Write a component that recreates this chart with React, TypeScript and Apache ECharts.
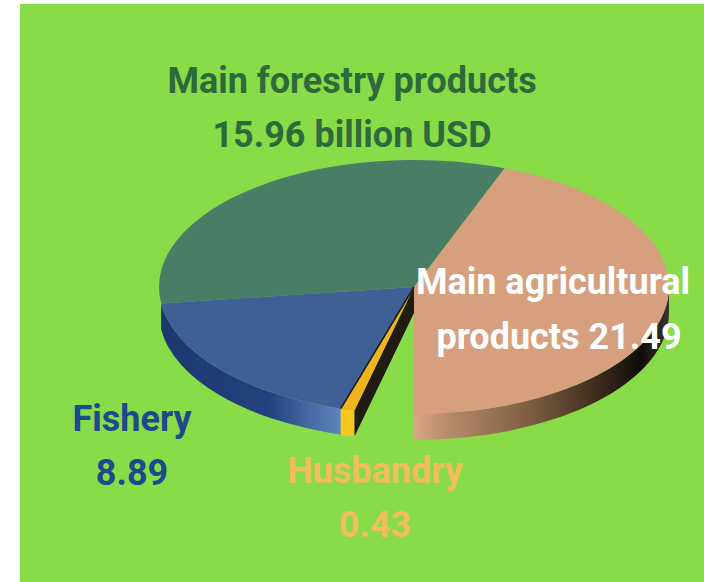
import React, { useEffect, useRef } from "react";
import * as echarts from "echarts";

const categories = ["Main agricultural products", "Main forestry products", "Fishery", "Husbandry"];
const values = [21.49, 15.96, 8.89, 0.43];
const labelLines = [
  ["Main agricultural", "products 21.49"],
  ["Main forestry products", "15.96 billion USD"],
  ["Fishery", "8.89"],
  ["Husbandry", "0.43"],
];

const topColors = ["#d6a07e", "#4a7d66", "#3f6094", "#f0b51e"];
const labelColors = ["#ffffff", "#2e693b", "#1c4a8c", "#f3bb5c"];
const labelAnchors = [
  [553, 282, 559, 337],
  [352, 81, 352, 135],
  [132, 419, 132, 473],
  [375, 471, 375, 525],
];

const CX = 414;
const CY = 287;
const RX = 255;
const RY = 127;
const DEPTH = 26;
const START_DEG = 180;
const TOTAL_SWEEP = 346.5;

const pt = (deg: number, dy = 0): [number, number] => {
  const a = (deg * Math.PI) / 180;
  return [CX + RX * Math.sin(a), CY - RY * Math.cos(a) + dy];
};
const f = (p: [number, number]) => `${p[0].toFixed(2)} ${p[1].toFixed(2)}`;

const topPath = (from: number, to: number) =>
  `M${CX} ${CY} L${f(pt(from))} A${RX} ${RY} 0 ${Math.abs(from - to) > 180 ? 1 : 0} ${to > from ? 1 : 0} ${f(pt(to))} Z`;
const sidePath = (from: number, to: number) =>
  `M${f(pt(from))} A${RX} ${RY} 0 0 ${to > from ? 1 : 0} ${f(pt(to))} L${f(pt(to, DEPTH))} A${RX} ${RY} 0 0 ${to > from ? 0 : 1} ${f(pt(from, DEPTH))} Z`;

const hGrad = (x: number, x2: number, stops: [number, string][]) => ({
  type: "linear",
  x,
  y: 0,
  x2,
  y2: 0,
  global: true,
  colorStops: stops.map(([offset, color]) => ({ offset, color })),
});

const total = values.reduce((a, b) => a + b, 0);
const angleOf = (idx: number) => {
  let sum = 0;
  for (let i = 0; i < idx; i++) sum += values[i];
  return START_DEG - (sum / total) * TOTAL_SWEEP;
};

const fill = (d: string, color: any, z2 = 0) => ({
  type: "path",
  z2,
  shape: { pathData: d },
  style: { fill: color },
  silent: true,
});

const renderItem = (params: any, api: any) => {
  const i = params.dataIndex;
  const from = angleOf(i);
  const to = from - (api.value(0) / total) * TOTAL_SWEEP;
  const children: any[] = [];
  if (i === 0) {
    children.push(
      fill(
        sidePath(from, 90),
        hGrad(CX, CX + RX, [
          [0, "#d8a684"],
          [0.14, "#b58a6a"],
          [0.47, "#7a5a40"],
          [0.73, "#3a2a1c"],
          [0.89, "#0f0c08"],
          [1, "#3a342a"],
        ]),
        1
      )
    );
  }
  if (i === 2) {
    const left = pt(from);
    const right = pt(to);
    children.push(
      fill(
        sidePath(from, to),
        hGrad(left[0], right[0], [
          [0, "#1b386f"],
          [0.6, "#22427f"],
          [0.85, "#4a6ca8"],
          [1, "#5f84bd"],
        ])
      )
    );
  }
  if (i === 3) {
    children.push(
      fill(sidePath(from, to), "#f9c51f"),
      fill(`M${CX} ${CY} L${f(pt(to))} L${f(pt(to, DEPTH))} L${CX} ${CY + DEPTH} Z`, "#201c14")
    );
  }
  children.push(fill(topPath(from, to), topColors[i], 2));
  if (i === 3) {
    children.push({
      type: "line",
      z2: 3,
      shape: { x1: CX, y1: CY, x2: pt(from)[0], y2: pt(from)[1] },
      style: { stroke: "#1d1c18", lineWidth: 1.6 },
    });
  }
  return { type: "group", children };
};

const renderLabel = (params: any) => {
  const i = params.dataIndex;
  const [x1, y1, x2, y2] = labelAnchors[i];
  const text = (t: string, x: number, y: number) => ({
    type: "text",
    x,
    y,
    z2: 10,
    style: {
      text: t,
      fill: labelColors[i],
      font: "700 36px Roboto",
      textAlign: "center",
      textVerticalAlign: "middle",
    },
  });
  return {
    type: "group",
    children: [text(labelLines[i][0], x1, y1), text(labelLines[i][1], x2, y2)],
  };
};

export default function App() {
  const ref = useRef<HTMLDivElement>(null);
  useEffect(() => {
    const chart = echarts.init(ref.current!, null, { renderer: "svg" });
    const data = categories.map((name, i) => ({ name, value: [values[i]] }));
    chart.setOption({
      animation: false,
      backgroundColor: "#ffffff",
      graphic: [
        {
          type: "rect",
          z: 0,
          silent: true,
          shape: { x: 20, y: 4, width: 684, height: 578 },
          style: { fill: "#88dc48" },
        },
      ],
      series: [
        { type: "custom", coordinateSystem: "none", z: 2, renderItem, data },
        { type: "custom", coordinateSystem: "none", z: 5, renderItem: renderLabel, data },
      ],
    });
    return () => chart.dispose();
  }, []);
  return <div ref={ref} style={{ position: "absolute", left: 0, top: 0, width: 704, height: 582 }} />;
}
